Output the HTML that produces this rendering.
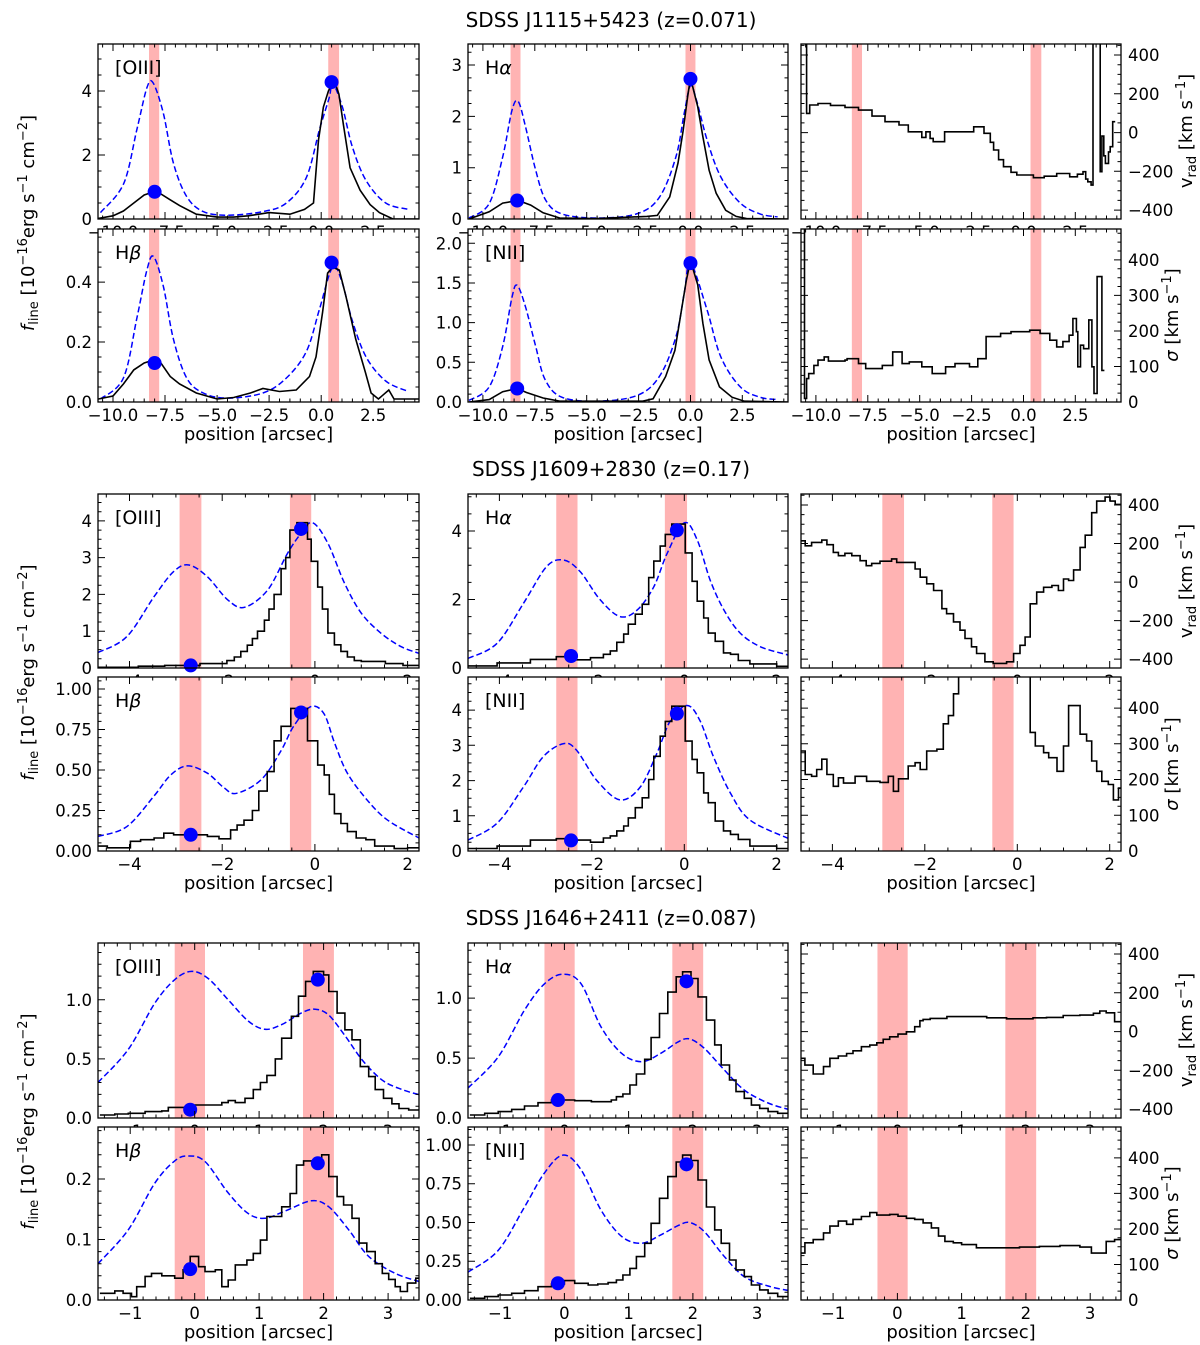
<!DOCTYPE html>
<html><head><meta charset="utf-8"><style>
html,body{margin:0;padding:0;background:#fff}
svg{display:block;font-family:"DejaVu Sans","Liberation Sans",sans-serif}
</style></head><body>
<svg id="fig" xmlns="http://www.w3.org/2000/svg" width="1200" height="1345" viewBox="0 0 1200 1345">
<rect x="0" y="0" width="1200" height="1345" fill="#fff"/>
<defs id="defs"></defs>
<text x="611" y="27" font-size="20" text-anchor="middle">SDSS J1115+5423 (z=0.071)</text>
<text x="611" y="476" font-size="20" text-anchor="middle">SDSS J1609+2830 (z=0.17)</text>
<text x="611" y="925" font-size="20" text-anchor="middle">SDSS J1646+2411 (z=0.087)</text>
</svg>
<script>
// ---------------- DATA ----------------
const g1_bands_c1=[[-8.27,-7.78],[0.34,0.86]];
const g1_bands_c2=[[-8.67,-8.19],[-0.24,0.24]];
const g1_oiii_x=[-10.7,-10.0,-9.5,-9.0,-8.5,-8.05,-7.7,-7.25,-6.8,-6.0,-5.0,-4.2,-3.5,-2.8,-2.5,-1.5,-0.8,-0.37,-0.13,0.11,0.35,0.62,0.85,1.07,1.39,1.87,2.35,2.8,3.45,4.7];
const g1_oiii_y=[0.02,0.1,0.25,0.5,0.75,0.85,0.78,0.6,0.42,0.15,0.06,0.06,0.1,0.17,0.2,0.15,0.3,0.5,2.47,3.5,4.0,4.35,3.9,2.95,1.6,0.9,0.45,0.2,0.0,0.0];
const g1_oiii_mx=[-10.6,-9.49,-8.85,-8.37,-8.07,-7.58,-7.1,-6.46,-5.66,-4.5,-2.8,-1.67,-0.71,-0.08,0.39,0.55,1.02,1.5,2.16,3.1,4.2];
const g1_oiii_my=[0.2,1.1,2.8,4.1,4.25,3.3,1.75,0.7,0.23,0.12,0.23,0.5,1.3,2.8,3.8,4.25,3.5,2.25,1.2,0.5,0.3];
const g1_oiii_dx=[-8.0,0.5]; const g1_oiii_dy=[0.85,4.28];
const g1_hb_x=[-10.7,-10.0,-9.5,-9.0,-8.5,-8.05,-7.7,-7.25,-6.8,-6.0,-5.0,-4.2,-3.4,-2.8,-2.0,-1.2,-0.56,-0.25,0.07,0.31,0.55,0.87,1.2,1.66,2.12,2.4,2.75,3.25,3.5,3.7,4.2,4.7];
const g1_hb_y=[0.01,0.02,0.06,0.107,0.13,0.14,0.13,0.085,0.06,0.03,0.01,0.015,0.03,0.045,0.035,0.04,0.085,0.15,0.3,0.43,0.45,0.44,0.35,0.21,0.1,0.03,0.01,0.04,0.01,0.01,0.01,0.01];
const g1_hb_mx=[-10.6,-9.5,-8.85,-8.37,-8.05,-7.58,-7.1,-6.46,-5.66,-4.5,-2.8,-1.67,-0.7,-0.08,0.55,1.0,1.5,2.16,3.1,4.2];
const g1_hb_my=[0.01,0.08,0.28,0.44,0.485,0.385,0.21,0.08,0.03,0.013,0.03,0.08,0.17,0.31,0.45,0.4,0.27,0.15,0.07,0.035];
const g1_hb_dx=[-8.0,0.5]; const g1_hb_dy=[0.13,0.465];
const g1_ha_x=[-10.67,-9.7,-9.05,-8.3,-7.7,-7.1,-6.3,-4.5,-2.1,-1.6,-1.0,-0.6,-0.35,-0.14,0.0,0.35,0.6,0.9,1.24,1.7,2.2,2.7,4.7];
const g1_ha_y=[0.0,0.14,0.31,0.36,0.27,0.12,0.02,0.01,0.05,0.07,0.43,1.09,1.73,2.38,2.75,2.19,1.6,0.95,0.5,0.17,0.05,0.01,0.0];
const g1_ha_mx=[-10.67,-9.7,-9.05,-8.6,-8.3,-7.95,-7.46,-6.98,-6.2,-4.5,-2.6,-1.5,-0.7,-0.3,0.0,0.3,0.8,1.46,2.4,3.35,4.2];
const g1_ha_my=[0.02,0.3,1.21,2.12,2.29,1.8,0.95,0.37,0.1,0.02,0.1,0.42,1.21,2.06,2.6,2.3,1.54,0.82,0.31,0.1,0.04];
const g1_ha_dx=[-8.35,0.0]; const g1_ha_dy=[0.36,2.73];
const g1_nii_x=[-10.67,-9.7,-9.05,-8.35,-7.9,-7.1,-6.3,-2.3,-1.8,-1.2,-0.75,-0.43,-0.2,0.0,0.35,0.6,0.9,1.4,2.0,2.6,4.7];
const g1_nii_y=[0.0,0.03,0.13,0.17,0.12,0.05,0.01,0.01,0.04,0.32,0.65,1.16,1.53,1.78,1.48,0.99,0.53,0.19,0.06,0.01,0.0];
const g1_nii_mx=[-10.67,-9.7,-9.05,-8.6,-8.35,-7.95,-7.46,-7.0,-6.2,-4.5,-2.6,-1.5,-0.7,-0.3,0.0,0.8,1.46,2.4,3.35,4.2];
const g1_nii_my=[0.02,0.19,0.7,1.32,1.47,1.2,0.7,0.28,0.06,0.01,0.08,0.32,0.82,1.37,1.75,1.16,0.57,0.19,0.06,0.03];
const g1_nii_dx=[-8.35,0.0]; const g1_nii_dy=[0.17,1.75];
const g1_vrad_x=[-10.8,-10.45,-10.3,-9.9,-9.3,-8.6,-7.95,-7.3,-6.67,-6.0,-5.55,-4.9,-4.7,-4.5,-4.35,-3.8,-3.2,-2.4,-1.9,-1.6,-1.44,-1.2,-0.96,-0.6,-0.32,0.48,1.0,1.6,2.23,2.6,2.87,3.0,3.1,3.26,3.35,3.6,3.7,3.78,3.87,3.95,4.1,4.18,4.3];
const g1_vrad_y=[600,99,142,150,140,130,116,85,56,39,4,-25,4,-30,-47,4,4,30,-4,-50,-90,-140,-176,-205,-219,-233,-225,-211,-228,-215,-202,-240,-254,-271,600,600,-202,-18,-120,-159,-100,-73,56];
const g1_sig_x=[-10.8,-10.55,-10.45,-10.35,-10.1,-9.9,-9.6,-9.4,-8.6,-8.5,-7.95,-7.6,-7.2,-6.8,-6.3,-5.85,-5.5,-4.9,-4.4,-3.75,-3.3,-2.6,-2.2,-1.8,-1.1,-0.6,0.0,0.3,0.8,1.27,1.6,1.9,2.2,2.38,2.55,2.62,2.75,2.9,3.15,3.3,3.4,3.55,3.78];
const g1_sig_y=[600,10,66,80,103,118,127,115,118,122,108,94,94,103,141,108,113,99,80,99,108,99,122,184,193,198,198,202,193,174,155,170,188,235,198,99,160,150,231,99,24,353,89];
const g2_bands_c1=[[-2.92,-2.45],[-0.54,-0.08]];
const g2_bands_c2=[[-2.77,-2.31],[-0.42,0.06]];
const g2_oiii_x=[-4.68,-3.81,-3.24,-2.48,-1.9,-1.74,-1.6,-1.46,-1.35,-1.24,-1.09,-0.99,-0.88,-0.73,-0.63,-0.54,-0.39,-0.16,-0.08,0.06,0.16,0.28,0.42,0.56,0.7,0.85,1.0,1.52,1.9];
const g2_oiii_y=[0.02,0.05,0.07,0.12,0.2,0.3,0.45,0.62,0.8,1.0,1.3,1.6,2.0,2.7,3.0,3.75,3.95,3.5,2.9,2.2,1.6,0.95,0.63,0.45,0.3,0.2,0.18,0.12,0.07];
const g2_oiii_mx=[-4.68,-4.06,-3.47,-3.05,-2.72,-2.32,-1.88,-1.52,-1.02,-0.59,-0.3,-0.05,0.28,0.64,1.0,1.43,1.86,2.245];
const g2_oiii_my=[0.42,0.85,1.94,2.62,2.8,2.48,1.85,1.65,2.12,3.12,3.66,3.95,3.39,2.3,1.49,0.94,0.58,0.4];
const g2_oiii_dx=[-2.68,-0.3]; const g2_oiii_dy=[0.07,3.78];
const g2_hb_x=[-4.68,-4.48,-3.98,-3.76,-3.47,-3.26,-3.05,-2.61,-2.32,-2.07,-1.82,-1.68,-1.53,-1.35,-1.21,-1.03,-0.88,-0.73,-0.52,-0.16,0.06,0.2,0.31,0.42,0.56,0.7,0.89,1.1,1.29,1.71,2.0];
const g2_hb_y=[0.03,0.02,0.06,0.07,0.08,0.11,0.1,0.1,0.09,0.075,0.13,0.16,0.19,0.25,0.37,0.49,0.68,0.77,0.88,0.68,0.53,0.47,0.35,0.23,0.17,0.12,0.08,0.07,0.03,0.015,0.02];
const g2_hb_mx=[-4.68,-4.06,-3.47,-3.11,-2.75,-2.32,-1.96,-1.69,-1.16,-0.73,-0.46,-0.1,0.19,0.42,0.7,1.14,1.57,2.245];
const g2_hb_my=[0.09,0.15,0.34,0.47,0.525,0.48,0.39,0.356,0.44,0.62,0.77,0.89,0.85,0.67,0.48,0.31,0.19,0.08];
const g2_hb_dx=[-2.68,-0.3]; const g2_hb_dy=[0.1,0.855];
const g2_ha_x=[-4.68,-4.05,-3.33,-2.77,-2.33,-2.03,-1.75,-1.6,-1.46,-1.31,-1.21,-1.06,-0.91,-0.77,-0.66,-0.52,-0.41,-0.27,0.02,0.17,0.28,0.42,0.52,0.67,0.85,1.0,1.17,1.42,2.0];
const g2_ha_y=[0.06,0.15,0.25,0.33,0.24,0.3,0.4,0.5,0.75,0.99,1.28,1.57,1.86,2.64,3.12,3.56,3.9,4.2,3.36,2.53,1.95,1.46,1.02,0.78,0.44,0.4,0.22,0.12,0.05];
const g2_ha_mx=[-4.68,-4.05,-3.48,-2.98,-2.61,-2.25,-1.82,-1.39,-1.02,-0.66,-0.37,0.0,0.28,0.56,0.86,1.21,1.65,2.245];
const g2_ha_my=[0.28,0.72,1.89,2.96,3.15,2.81,1.99,1.5,1.69,2.37,3.35,4.24,3.74,2.57,1.69,1.02,0.62,0.38];
const g2_ha_dx=[-2.45,-0.16]; const g2_ha_dy=[0.35,4.02];
const g2_nii_x=g2_ha_x.slice();
const g2_nii_y=[0.07,0.14,0.31,0.35,0.31,0.25,0.37,0.43,0.57,0.71,0.94,1.23,1.51,2.03,2.69,3.26,3.68,4.11,3.12,2.6,2.22,1.65,1.37,0.85,0.57,0.47,0.33,0.14,0.07];
const g2_nii_mx=[-4.68,-4.05,-3.48,-3.05,-2.61,-2.33,-1.89,-1.39,-0.95,-0.59,-0.3,0.06,0.34,0.63,1.0,1.42,2.245];
const g2_nii_my=[0.31,0.79,1.82,2.68,3.05,2.86,2.0,1.45,1.82,2.78,3.7,4.13,3.7,2.68,1.64,0.88,0.36];
const g2_nii_dx=[-2.45,-0.16]; const g2_nii_dy=[0.3,3.9];
const g2_vrad_x=[-4.69,-4.59,-4.45,-4.23,-4.12,-3.98,-3.87,-3.73,-3.58,-3.4,-3.27,-3.15,-2.97,-2.72,-2.61,-2.21,-2.1,-1.96,-1.81,-1.63,-1.53,-1.38,-1.24,-1.13,-0.99,-0.88,-0.7,-0.52,-0.23,-0.08,0.06,0.17,0.28,0.42,0.57,0.75,0.89,1.0,1.11,1.22,1.36,1.47,1.61,1.72,1.9,2.01,2.12];
const g2_vrad_y=[214,188,206,218,194,154,137,149,137,111,85,97,108,120,102,68,25,-9,-44,-138,-164,-207,-250,-293,-336,-371,-414,-422,-414,-371,-328,-285,-113,-52,-27,-18,-44,16,8,63,180,243,360,420,441,420,403];
const g2_sig_x=[-4.69,-4.59,-4.45,-4.34,-4.23,-4.12,-3.98,-3.87,-3.76,-3.51,-3.26,-2.97,-2.79,-2.68,-2.57,-2.36,-2.21,-2.1,-1.96,-1.74,-1.6,-1.49,-1.38,-1.27,0.28,0.39,0.57,0.68,0.86,1.0,1.11,1.36,1.5,1.61,1.72,1.83,1.97,2.08,2.19];
const g2_sig_y=[280,214,209,228,257,214,181,205,190,209,195,192,209,167,202,238,247,228,280,285,356,379,440,600,332,294,275,261,223,294,407,327,308,252,223,195,186,143,176];
const g3_bands=[[-0.31,0.16],[1.68,2.16]];
const g3_oiii_x=[-1.47,-1.24,-1.03,-0.77,-0.51,-0.41,0.0,0.42,0.52,0.63,0.78,0.91,1.02,1.12,1.25,1.35,1.5,1.61,1.72,1.84,2.0,2.08,2.21,2.33,2.44,2.57,2.7,2.8,2.93,3.06,3.17,3.32];
const g3_oiii_y=[0.025,0.034,0.04,0.054,0.06,0.09,0.11,0.13,0.147,0.13,0.167,0.24,0.3,0.36,0.5,0.675,0.86,1.03,1.155,1.24,1.21,1.07,0.887,0.746,0.661,0.435,0.35,0.24,0.167,0.12,0.08,0.068];
const g3_oiii_mx=[-1.5,-1.03,-0.62,-0.31,-0.05,0.21,0.52,0.83,1.09,1.35,1.66,1.87,2.08,2.34,2.6,2.91,3.22,3.5];
const g3_oiii_my=[0.3,0.58,0.97,1.17,1.24,1.18,1.0,0.82,0.75,0.79,0.89,0.92,0.87,0.69,0.49,0.32,0.24,0.195];
const g3_oiii_dx=[-0.07,1.91]; const g3_oiii_dy=[0.07,1.17];
const g3_hb_x=[-1.47,-1.24,-1.11,-0.98,-0.9,-0.77,-0.67,-0.51,-0.31,-0.18,-0.07,0.06,0.16,0.32,0.42,0.52,0.63,0.81,0.91,1.02,1.12,1.25,1.35,1.48,1.58,1.69,1.87,1.97,2.08,2.21,2.31,2.44,2.55,2.67,2.8,2.91,3.01,3.11,3.19,3.3,3.43];
const g3_hb_y=[0.011,0.015,0.011,0.0055,0.022,0.039,0.044,0.04,0.036,0.05,0.072,0.055,0.047,0.05,0.022,0.033,0.058,0.066,0.077,0.099,0.138,0.138,0.154,0.176,0.223,0.23,0.23,0.24,0.204,0.171,0.157,0.135,0.094,0.08,0.06,0.044,0.034,0.022,0.014,0.028,0.036];
const g3_hb_mx=[-1.5,-1.03,-0.62,-0.31,-0.1,0.16,0.52,0.83,1.09,1.4,1.81,2.08,2.39,2.7,3.11,3.5];
const g3_hb_my=[0.06,0.116,0.193,0.23,0.238,0.229,0.177,0.143,0.135,0.147,0.164,0.154,0.116,0.072,0.044,0.03];
const g3_hb_dx=[-0.07,1.91]; const g3_hb_dy=[0.051,0.226];
const g3_ha_x=[-1.47,-1.24,-1.03,-0.82,-0.62,-0.41,-0.2,0.16,0.42,0.73,0.81,0.91,1.02,1.12,1.25,1.35,1.48,1.61,1.74,1.84,1.97,2.08,2.21,2.34,2.44,2.57,2.67,2.8,2.91,3.04,3.17,3.32];
const g3_ha_y=[0.025,0.039,0.053,0.072,0.1,0.128,0.15,0.144,0.136,0.15,0.178,0.2,0.275,0.367,0.49,0.672,0.872,1.05,1.178,1.22,1.164,1.01,0.817,0.61,0.442,0.317,0.22,0.164,0.108,0.08,0.053,0.039];
const g3_ha_mx=[-1.5,-1.03,-0.62,-0.31,-0.02,0.26,0.57,0.89,1.2,1.5,1.77,1.95,2.18,2.49,2.8,3.17,3.5];
const g3_ha_my=[0.25,0.51,0.9,1.12,1.2,1.12,0.76,0.54,0.47,0.54,0.635,0.66,0.58,0.4,0.233,0.125,0.07];
const g3_ha_dx=[-0.1,1.9]; const g3_ha_dy=[0.15,1.14];
const g3_nii_x=[-1.47,-1.24,-1.03,-0.82,-0.62,-0.41,-0.2,0.0,0.16,0.37,0.52,0.68,0.81,0.91,1.02,1.12,1.25,1.35,1.48,1.61,1.74,1.84,1.97,2.08,2.21,2.34,2.44,2.57,2.67,2.8,2.91,3.04,3.17,3.32];
const g3_nii_y=[0.011,0.022,0.032,0.043,0.06,0.086,0.103,0.125,0.108,0.097,0.103,0.112,0.129,0.161,0.204,0.28,0.366,0.495,0.656,0.796,0.89,0.935,0.9,0.774,0.6,0.452,0.366,0.258,0.194,0.151,0.097,0.065,0.043,0.022];
const g3_nii_mx=[-1.5,-1.03,-0.62,-0.31,-0.02,0.26,0.57,0.89,1.2,1.5,1.77,1.95,2.18,2.49,2.8,3.17,3.5];
const g3_nii_my=[0.18,0.32,0.6,0.82,0.935,0.84,0.58,0.41,0.366,0.42,0.48,0.5,0.44,0.28,0.15,0.09,0.06];
const g3_nii_dx=[-0.1,1.9]; const g3_nii_dy=[0.108,0.875];
const g3_vrad_x=[-1.5,-1.44,-1.31,-1.15,-1.05,-0.92,-0.79,-0.69,-0.56,-0.43,-0.32,-0.22,-0.12,0.01,0.14,0.27,0.35,0.4,0.51,0.77,1.08,1.39,1.7,2.11,2.32,2.58,2.84,3.05,3.15,3.25,3.38];
const g3_vrad_y=[-138,-173,-219,-181,-138,-126,-113,-99,-78,-70,-58,-40,-27,-13,-1,25,56,63,68,77,77,71,66,71,73,83,85,94,106,97,51];
const g3_sig_x=[-1.5,-1.44,-1.31,-1.15,-1.05,-0.92,-0.79,-0.69,-0.56,-0.43,-0.32,-0.12,0.01,0.14,0.27,0.4,0.53,0.64,0.74,0.87,1.0,1.23,1.54,1.9,2.21,2.53,2.84,3.02,3.25,3.38];
const g3_sig_y=[132,161,170,189,208,222,213,227,235,246,239,241,236,230,227,217,203,180,165,161,156,147,147,149,151,153,149,132,165,170];

// ---------------- RENDERING ----------------
const NS='http://www.w3.org/2000/svg';
const svg=document.getElementById('fig');
const defs=document.getElementById('defs');
function mk(tag,attrs,parent){const e=document.createElementNS(NS,tag);for(const k in attrs)e.setAttribute(k,attrs[k]);(parent||svg).appendChild(e);return e;}
function fmt(v,d){const s=Math.abs(v).toFixed(d);return (v< -1e-9?'\u2212':'')+s;}
const TF=16.5;
function makePanel(c){
  const p={c};
  p.sx=v=>c.x0+(v-c.xlim[0])/(c.xlim[1]-c.xlim[0])*c.w;
  p.sy=v=>c.y0+c.h-(v-c.ylim[0])/(c.ylim[1]-c.ylim[0])*c.h;
  p.g=mk('g',{});
  
  
  const bg=mk('rect',{x:c.x0,y:c.y0,width:c.w,height:c.h,fill:'#fff'},p.g);
  
  
  const cp=mk('clipPath',{id:'clip-'+c.name},defs);
  mk('rect',{x:c.x0,y:c.y0,width:c.w,height:c.h},cp);
  p.plot=mk('g',{'clip-path':'url(#clip-'+c.name+')'},p.g);
  return p;
}
function drawBands(p,bands){
  for(const b of bands){
    const r=mk('rect',{x:p.sx(b[0]),y:p.c.y0,width:p.sx(b[1])-p.sx(b[0]),height:p.c.h,fill:'#ffb3b3'},p.plot);
    
    
  }
}
function smoothPath(p,xs,ys){
  const n=Math.min(xs.length,ys.length);const P=[];
  for(let i=0;i<n;i++)P.push([p.sx(xs[i]),p.sy(ys[i])]);
  let d='M'+P[0][0].toFixed(1)+','+P[0][1].toFixed(1);
  for(let i=0;i<n-1;i++){
    const p0=P[Math.max(0,i-1)],p1=P[i],p2=P[i+1],p3=P[Math.min(n-1,i+2)];
    const c1=[p1[0]+(p2[0]-p0[0])/6,p1[1]+(p2[1]-p0[1])/6];
    const c2=[p2[0]-(p3[0]-p1[0])/6,p2[1]-(p3[1]-p1[1])/6];
    d+=' C'+c1[0].toFixed(1)+','+c1[1].toFixed(1)+' '+c2[0].toFixed(1)+','+c2[1].toFixed(1)+' '+p2[0].toFixed(1)+','+p2[1].toFixed(1);
  }
  return d;
}
function drawModel(p,xs,ys){
  const e=mk('path',{d:smoothPath(p,xs,ys),fill:'none',stroke:'#0000ff','stroke-width':1.5,'stroke-dasharray':'6,3'},p.plot);
  
  
}
function drawLine(p,xs,ys){
  const n=Math.min(xs.length,ys.length);let d='';
  for(let i=0;i<n;i++)d+=(i?'L':'M')+p.sx(xs[i]).toFixed(1)+','+p.sy(ys[i]).toFixed(1);
  const e=mk('path',{d:d,fill:'none',stroke:'#000','stroke-width':1.6},p.plot);
  
  
}
function drawStep(p,xs,ys,xend,name){
  const n=Math.min(xs.length,ys.length);
  let d='M'+p.sx(xs[0]).toFixed(1)+','+p.sy(ys[0]).toFixed(1);
  for(let i=1;i<n;i++)d+='H'+p.sx(xs[i]).toFixed(1)+'V'+p.sy(ys[i]).toFixed(1);
  d+='H'+p.sx(xend).toFixed(1);
  const e=mk('path',{d:d,fill:'none',stroke:'#000','stroke-width':1.6},p.plot);
  
  
}
function drawDots(p,xs,ys){
  const n=Math.min(xs.length,ys.length);
  for(let i=0;i<n;i++){
    const e=mk('circle',{cx:p.sx(xs[i]),cy:p.sy(ys[i]),r:7,fill:'#0000ff'},p.g);
    
    
  }
}
function ticks(lo,hi,step){const out=[];const s=Math.ceil(lo/step-1e-9);for(let k=s;k*step<=hi+1e-9;k++)out.push(+(k*step).toFixed(6));return out;}
function finishPanel(p){
  const c=p.c,g=p.g;
  const x1=c.x0+c.w,y1=c.y0+c.h;
  let d='';
  for(const v of ticks(c.xlim[0],c.xlim[1],c.xMin)){const X=p.sx(v).toFixed(1);d+='M'+X+','+y1+'v-3.5M'+X+','+c.y0+'v3.5';}
  for(const v of ticks(c.xlim[0],c.xlim[1],c.xMaj)){const X=p.sx(v).toFixed(1);d+='M'+X+','+y1+'v-7M'+X+','+c.y0+'v7';}
  for(const v of ticks(c.ylim[0],c.ylim[1],c.yMin)){const Y=p.sy(v).toFixed(1);d+='M'+c.x0+','+Y+'h3.5M'+x1+','+Y+'h-3.5';}
  for(const v of ticks(c.ylim[0],c.ylim[1],c.yMaj)){const Y=p.sy(v).toFixed(1);d+='M'+c.x0+','+Y+'h7M'+x1+','+Y+'h-7';}
  const t=mk('path',{d:d,stroke:'#000','stroke-width':1,fill:'none'},g);
  
  
  const fr=mk('rect',{x:c.x0,y:c.y0,width:c.w,height:c.h,fill:'none',stroke:'#000','stroke-width':1.3},g);
  
  
  for(const v of ticks(c.xlim[0],c.xlim[1],c.xMaj)){
    const e=mk('text',{x:p.sx(v),y:y1+19,'font-size':TF,'text-anchor':'middle'},g);
    e.textContent=fmt(v,c.xd);
    
    
  }
  for(const v of ticks(c.ylim[0],c.ylim[1],c.yMaj)){
    const right=!!c.right;
    const e=mk('text',{x:right?x1+7:c.x0-6,y:p.sy(v)+6,'font-size':TF,'text-anchor':right?'start':'end'},g);
    e.textContent=fmt(v,c.yd);
    
    
  }
  if(c.label){
    const e=mk('text',{x:c.x0+17,y:c.y0+30,'font-size':19},g);
    e.innerHTML=c.label;
    
    
  }
  if(c.xlabel){
    const e=mk('text',{x:c.x0+c.w/2,y:y1+38,'font-size':18,'text-anchor':'middle'},g);
    e.textContent='position [arcsec]';
    
    
  }
}
const HA='H<tspan font-style="italic">\u03b1</tspan>', HB='H<tspan font-style="italic">\u03b2</tspan>';
const COLS=[98,468,801], W=[321,320,320];
function layout(gi,top,bot,xlim,xMaj,xMin,xd,spec){
  const rowsY=[[top[0],top[1]-top[0]],[bot[0],bot[1]-bot[0]]];
  for(let i=0;i<6;i++){
    const s=spec[i];const r=i<3?0:1;const col=i%3;
    const c=Object.assign({x0:COLS[col],y0:rowsY[r][0],w:W[col],h:rowsY[r][1],xlim:xlim,xMaj:xMaj,xMin:xMin,xd:xd,xlabel:r===1},s);
    const p=makePanel(c);
    s.draw(p);
    finishPanel(p);
  }
}
layout(1,[44,219],[229,402],[-10.72,4.7],2.5,0.5,1,[
 {name:'j1115-oiii-panel',ylim:[0,5.47],yMaj:2,yMin:0.5,yd:0,label:'[OIII]',draw:p=>{drawBands(p,g1_bands_c1);drawModel(p,g1_oiii_mx,g1_oiii_my);drawLine(p,g1_oiii_x,g1_oiii_y);drawDots(p,g1_oiii_dx,g1_oiii_dy);}},
 {name:'j1115-halpha-panel',ylim:[0,3.41],yMaj:1,yMin:0.25,yd:0,label:HA,draw:p=>{drawBands(p,g1_bands_c2);drawModel(p,g1_ha_mx,g1_ha_my);drawLine(p,g1_ha_x,g1_ha_y);drawDots(p,g1_ha_dx,g1_ha_dy);}},
 {name:'j1115-vrad-panel',ylim:[-446,457],yMaj:200,yMin:50,yd:0,right:true,draw:p=>{drawBands(p,g1_bands_c1);drawStep(p,g1_vrad_x,g1_vrad_y,4.42,'vrad-profile');}},
 {name:'j1115-hbeta-panel',ylim:[0,0.577],yMaj:0.2,yMin:0.05,yd:1,label:HB,draw:p=>{drawBands(p,g1_bands_c1);drawModel(p,g1_hb_mx,g1_hb_my);drawLine(p,g1_hb_x,g1_hb_y);drawDots(p,g1_hb_dx,g1_hb_dy);}},
 {name:'j1115-nii-panel',ylim:[0,2.18],yMaj:0.5,yMin:0.1,yd:1,label:'[NII]',draw:p=>{drawBands(p,g1_bands_c2);drawModel(p,g1_nii_mx,g1_nii_my);drawLine(p,g1_nii_x,g1_nii_y);drawDots(p,g1_nii_dx,g1_nii_dy);}},
 {name:'j1115-sigma-panel',ylim:[0,487],yMaj:100,yMin:25,yd:0,right:true,draw:p=>{drawBands(p,g1_bands_c1);drawStep(p,g1_sig_x,g1_sig_y,3.9,'sigma-profile');}}
]);
layout(2,[494,668],[677,851],[-4.68,2.245],2,0.5,0,[
 {name:'j1609-oiii-panel',ylim:[0,4.73],yMaj:1,yMin:0.25,yd:0,label:'[OIII]',draw:p=>{drawBands(p,g2_bands_c1);drawModel(p,g2_oiii_mx,g2_oiii_my);drawStep(p,g2_oiii_x,g2_oiii_y,2.245,'observed-histogram');drawDots(p,g2_oiii_dx,g2_oiii_dy);}},
 {name:'j1609-halpha-panel',ylim:[0,5.08],yMaj:2,yMin:0.5,yd:0,label:HA,draw:p=>{drawBands(p,g2_bands_c2);drawModel(p,g2_ha_mx,g2_ha_my);drawStep(p,g2_ha_x,g2_ha_y,2.245,'observed-histogram');drawDots(p,g2_ha_dx,g2_ha_dy);}},
 {name:'j1609-vrad-panel',ylim:[-446,457],yMaj:200,yMin:50,yd:0,right:true,draw:p=>{drawBands(p,g2_bands_c1);drawStep(p,g2_vrad_x,g2_vrad_y,2.245,'vrad-profile');}},
 {name:'j1609-hbeta-panel',ylim:[0,1.074],yMaj:0.25,yMin:0.05,yd:2,label:HB,draw:p=>{drawBands(p,g2_bands_c1);drawModel(p,g2_hb_mx,g2_hb_my);drawStep(p,g2_hb_x,g2_hb_y,2.245,'observed-histogram');drawDots(p,g2_hb_dx,g2_hb_dy);}},
 {name:'j1609-nii-panel',ylim:[0,4.94],yMaj:1,yMin:0.25,yd:0,label:'[NII]',draw:p=>{drawBands(p,g2_bands_c2);drawModel(p,g2_nii_mx,g2_nii_my);drawStep(p,g2_nii_x,g2_nii_y,2.245,'observed-histogram');drawDots(p,g2_nii_dx,g2_nii_dy);}},
 {name:'j1609-sigma-panel',ylim:[0,487],yMaj:100,yMin:25,yd:0,right:true,draw:p=>{drawBands(p,g2_bands_c1);drawStep(p,g2_sig_x,g2_sig_y,2.245,'sigma-profile');}}
]);
layout(3,[943,1118],[1127,1300],[-1.5,3.48],1,0.2,0,[
 {name:'j1646-oiii-panel',ylim:[0,1.48],yMaj:0.5,yMin:0.1,yd:1,label:'[OIII]',draw:p=>{drawBands(p,g3_bands);drawModel(p,g3_oiii_mx,g3_oiii_my);drawStep(p,g3_oiii_x,g3_oiii_y,3.48,'observed-histogram');drawDots(p,g3_oiii_dx,g3_oiii_dy);}},
 {name:'j1646-halpha-panel',ylim:[0,1.46],yMaj:0.5,yMin:0.1,yd:1,label:HA,draw:p=>{drawBands(p,g3_bands);drawModel(p,g3_ha_mx,g3_ha_my);drawStep(p,g3_ha_x,g3_ha_y,3.48,'observed-histogram');drawDots(p,g3_ha_dx,g3_ha_dy);}},
 {name:'j1646-vrad-panel',ylim:[-446,457],yMaj:200,yMin:50,yd:0,right:true,draw:p=>{drawBands(p,g3_bands);drawStep(p,g3_vrad_x,g3_vrad_y,3.48,'vrad-profile');}},
 {name:'j1646-hbeta-panel',ylim:[0,0.286],yMaj:0.1,yMin:0.02,yd:1,label:HB,draw:p=>{drawBands(p,g3_bands);drawModel(p,g3_hb_mx,g3_hb_my);drawStep(p,g3_hb_x,g3_hb_y,3.48,'observed-histogram');drawDots(p,g3_hb_dx,g3_hb_dy);}},
 {name:'j1646-nii-panel',ylim:[0,1.116],yMaj:0.25,yMin:0.05,yd:2,label:'[NII]',draw:p=>{drawBands(p,g3_bands);drawModel(p,g3_nii_mx,g3_nii_my);drawStep(p,g3_nii_x,g3_nii_y,3.48,'observed-histogram');drawDots(p,g3_nii_dx,g3_nii_dy);}},
 {name:'j1646-sigma-panel',ylim:[0,487],yMaj:100,yMin:25,yd:0,right:true,draw:p=>{drawBands(p,g3_bands);drawStep(p,g3_sig_x,g3_sig_y,3.48,'sigma-profile');}}
]);
const groupsY=[[44,402],[494,851],[943,1300]];
for(const gy of groupsY){
  const cy=(gy[0]+gy[1])/2;
  const e=mk('text',{transform:'translate(34,'+cy+') rotate(-90)','font-size':18,'text-anchor':'middle'});
  e.innerHTML='<tspan font-style="italic">f</tspan><tspan font-size="13" dy="4">line</tspan><tspan dy="-4"> [10</tspan><tspan font-size="13" dy="-7">\u221216</tspan><tspan dy="7">erg s</tspan><tspan font-size="13" dy="-7">\u22121</tspan><tspan dy="7"> cm</tspan><tspan font-size="13" dy="-7">\u22122</tspan><tspan dy="7">]</tspan>';
  
  
  const topMid=gy[0]+87, botMid=gy[1]-87;
  const v=mk('text',{transform:'translate(1192,'+topMid+') rotate(-90)','font-size':18,'text-anchor':'middle'});
  v.innerHTML='v<tspan font-size="13" dy="4">rad</tspan><tspan dy="-4"> [km s</tspan><tspan font-size="13" dy="-7">\u22121</tspan><tspan dy="7">]</tspan>';
  
  
  const s=mk('text',{transform:'translate(1178,'+botMid+') rotate(-90)','font-size':18,'text-anchor':'middle'});
  s.innerHTML='<tspan font-style="italic">\u03c3</tspan> [km s<tspan font-size="13" dy="-7">\u22121</tspan><tspan dy="7">]</tspan>';
  
  
}
</script>
</body></html>
